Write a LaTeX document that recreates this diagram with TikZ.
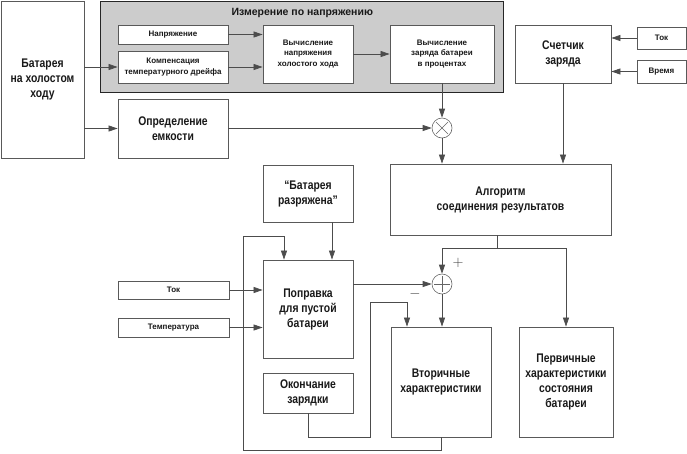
\documentclass[tikz,border=0pt]{standalone}
\usepackage{fontspec}
\setmainfont{Liberation Sans}
\newfontfamily\narrowbf{Liberation Sans Bold}[FakeStretch=0.83]
\newfontfamily\plainbf{Liberation Sans Bold}
\usetikzlibrary{arrows.meta}
\begin{document}
\begin{tikzpicture}[
    x=1pt, y=-1pt,
    font=\plainbf,
    block/.style={rectangle, draw=black!65, fill=white, line width=0.8pt,
                  inner sep=1pt, align=center, text=black!90},
    big/.style={font=\narrowbf\fontsize{12.5}{15}\selectfont},
    small/.style={font=\plainbf\fontsize{8}{10.5}\selectfont},
    group/.style={rectangle, draw=black!85, fill=black!20, line width=0.8pt},
    knot/.style={circle, draw=black!60, fill=white, line width=0.6pt,
                 minimum size=20pt, inner sep=0pt},
    arrow/.style={draw=black!70, line width=0.7pt,
                  -{Triangle[length=9pt, width=6pt]}},
    line/.style={draw=black!70, line width=0.7pt}
  ]
    \useasboundingbox (0,0) rectangle (687,453);

    % Группа измерения по напряжению
    \node[group, minimum width=403pt, minimum height=91pt] (grp) at (301.5,46.5) {};
    \node[font=\plainbf\fontsize{10.5}{12}\selectfont, text=black!90, anchor=west] (grptitle) at (228,13) {Измерение по напряжению};

    % Блоки
    \node[block, big, minimum width=83pt, minimum height=157pt] (bat) at (42.5,79.5) {Батарея\\на холостом\\ходу};
    \node[block, small, minimum width=110pt, minimum height=19pt] (nap) at (173,34.5) {Напряжение};
    \node[block, small, minimum width=110pt, minimum height=32pt] (komp) at (173,67) {Компенсация\\температурного дрейфа};
    \node[block, small, minimum width=90pt, minimum height=58pt] (vxx) at (308,54) {Вычисление\\напряжения\\холостого хода};
    \node[block, small, minimum width=104pt, minimum height=58pt] (vzar) at (442,54) {Вычисление\\заряда батареи\\в процентах};
    \node[block, big, minimum width=110pt, minimum height=59pt] (emk) at (173,128.5) {Определение\\емкости};
    \node[block, big, minimum width=96pt, minimum height=58pt] (sch) at (563,54) {Счетчик\\заряда};
    \node[block, small, minimum width=49pt, minimum height=22pt] (tok1) at (661.5,38) {Ток};
    \node[block, small, minimum width=49pt, minimum height=23pt] (vrem) at (661.5,71.5) {Время};
    \node[block, big, minimum width=221pt, minimum height=71pt] (alg) at (500.5,199.5) {Алгоритм\\соединения результатов};
    \node[block, big, minimum width=90pt, minimum height=57pt] (razr) at (308,193.5) {“Батарея\\разряжена”};
    \node[block, big, minimum width=90pt, minimum height=98pt] (popr) at (308,309) {Поправка\\для пустой\\батареи};
    \node[block, small, minimum width=111pt, minimum height=18pt] (tok2) at (173.5,290) {Ток};
    \node[block, small, minimum width=111pt, minimum height=19pt] (temp) at (173.5,327.5) {Температура};
    \node[block, big, minimum width=90pt, minimum height=40pt] (okon) at (308,393) {Окончание\\зарядки};
    \node[block, big, minimum width=100pt, minimum height=110pt] (vtor) at (441,382) {Вторичные\\характеристики};
    \node[block, big, minimum width=94pt, minimum height=110pt] (perv) at (566,382) {Первичные\\характеристики\\состояния\\батареи};

    % Умножение
    \node[knot] (mult) at (442,128) {};
    \draw[black!60, line width=0.6pt] ([shift={(-6,-6)}]mult.center) -- ([shift={(6,6)}]mult.center);
    \draw[black!60, line width=0.6pt] ([shift={(-6,6)}]mult.center) -- ([shift={(6,-6)}]mult.center);

    % Суммирование
    \node[knot] (sum) at (442,284) {};
    \draw[black!60, line width=0.6pt] ([xshift=-8pt]sum.center) -- ([xshift=8pt]sum.center);
    \draw[black!60, line width=0.6pt] ([yshift=-8pt]sum.center) -- ([yshift=8pt]sum.center);
    \node[font=\fontsize{15}{15}\selectfont, text=black!75] (plus) at (458,263) {$+$};
    \node[font=\fontsize{15}{15}\selectfont, text=black!75] (minus) at (415,294) {$-$};

    % Соединения
    \draw[arrow] (bat.east |- komp) -- (komp.west);
    \draw[arrow] (bat.east |- emk) -- (emk.west);
    \draw[arrow] (nap.east) -- (vxx.west |- nap.east);
    \draw[arrow] (komp.east) -- (vxx.west |- komp.east);
    \draw[arrow] (vxx.east) -- (vzar.west);
    \draw[arrow] (vzar.south -| mult) -- (mult.north);
    \draw[arrow] (emk.east |- mult) -- (mult.west);
    \draw[arrow] (mult.south) -- (mult |- alg.north);
    \draw[arrow] (sch.south) -- (sch |- alg.north);
    \draw[arrow] (tok1.west) -- (sch.east |- tok1.west);
    \draw[arrow] (vrem.west) -- (sch.east |- vrem.west);

    % Разветвление после алгоритма
    \coordinate (razv) at (497,248);
    \draw[line] (razv |- alg.south) -- (razv);
    \draw[arrow] (razv) -| (sum.north);
    \draw[arrow] (razv) -| (perv.north);

    \draw[arrow] ([xshift=24pt]razr.south) -- ([xshift=24pt]popr.north);
    \draw[arrow] (popr.east |- sum) -- (sum.west);
    \draw[arrow] (tok2.east) -- (popr.west |- tok2.east);
    \draw[arrow] (temp.east) -- (popr.west |- temp.east);
    \draw[arrow] (sum.south) -- (sum |- vtor.north);

    % Обратная связь
    \coordinate (petlya) at (243,236);
    \draw[arrow] (vtor.south) -- ++(0,13) -| (petlya) -| ([xshift=-24pt]popr.north);
    \draw[arrow] (okon.south) -- ++(0,24) -| (370,302) -| ([xshift=-34pt]vtor.north);
  \end{tikzpicture}
\end{document}
